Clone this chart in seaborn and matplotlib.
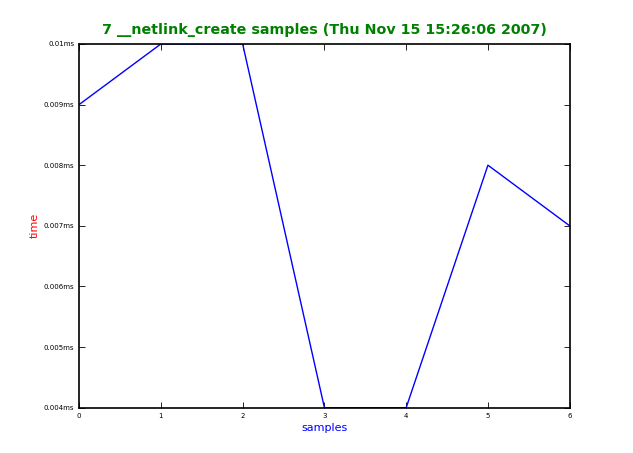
import pandas as pd
import numpy as np

import seaborn as sns
import matplotlib
matplotlib.use("Agg")
import matplotlib.pyplot as plt
from matplotlib.ticker import FuncFormatter

samples = [0, 1, 2, 3, 4, 5, 6]
times = [0.009, 0.010, 0.010, 0.004, 0.004, 0.008, 0.007]
xticks = [0, 1, 2, 3, 4, 5, 6]
yticks = [0.004, 0.005, 0.006, 0.007, 0.008, 0.009, 0.010]


def main():
    sns.set_style("white")
    plt.rcParams['font.family'] = ['DejaVu Sans']

    df = pd.DataFrame({'samples': samples, 'time': times})

    fig = plt.figure(figsize=(6.33, 4.53), dpi=100)
    ax = fig.add_axes([0.125, 0.1, 0.775, 0.803])

    sns.lineplot(data=df, x='samples', y='time', color='blue', linewidth=1, ax=ax)

    ax.set_xlim(0, 6)
    ax.set_ylim(0.004, 0.010)
    ax.set_xticks(xticks)
    ax.set_yticks(yticks)
    ax.yaxis.set_major_formatter(FuncFormatter(lambda v, p: "%gms" % round(v, 6)))

    ax.tick_params(direction='in', length=4, width=0.6, labelsize=5,
                   top=True, right=True, bottom=True, left=True,
                   color='black', labelcolor='black')
    for s in ax.spines.values():
        s.set_color('black')
        s.set_linewidth(1.2)

    ax.set_title("7 __netlink_create samples (Thu Nov 15 15:26:06 2007)",
                 color='green', fontweight='bold', fontsize=10.3, pad=7)
    ax.set_xlabel("samples", color='blue', fontsize=8, labelpad=3)
    ax.set_ylabel("time", color='red', fontsize=8, labelpad=3)

    fig.savefig("out.png", dpi=100)


if __name__ == "__main__":
    main()
